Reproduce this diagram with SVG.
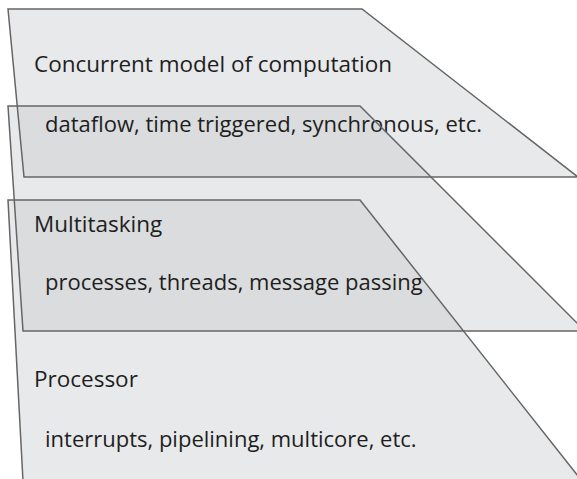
<svg xmlns="http://www.w3.org/2000/svg" width="577" height="479" viewBox="0 0 577 479">
  <style>
    .fill { fill: #c6c8ca; fill-opacity: 0.4; stroke: none; }
    .edge { fill: none; stroke: #666; stroke-width: 1.5; stroke-linejoin: miter; }
    .title { font-family: "Open Sans", "Liberation Sans", sans-serif; font-size: 22.5px; fill: #1e1e1e; }
    .sub { font-family: "Open Sans", "Liberation Sans", sans-serif; font-size: 22px; fill: #1e1e1e; }
  </style>
  <rect width="577" height="479" fill="#ffffff"/>
  <g id="plane-fills">
    <polygon class="fill" points="8,9 362,9 578,177 24,177"/>
    <polygon class="fill" points="8,106 360,106 585,331 23,331"/>
    <polygon class="fill" points="8,200 360,200 597,500 24,500"/>
  </g>
  <g id="plane-concurrent-model">
    <polygon class="edge" points="8,9 362,9 578,177 24,177"/>
    <text class="title" x="34" y="72" textLength="358">Concurrent model of computation</text>
    <text class="sub" x="45" y="132">dataflow, time triggered, synchronous, etc.</text>
  </g>
  <g id="plane-multitasking">
    <polygon class="edge" points="8,106 360,106 585,331 23,331"/>
    <text class="title" x="34" y="232">Multitasking</text>
    <text class="sub" x="45" y="290">processes, threads, message passing</text>
  </g>
  <g id="plane-processor">
    <polygon class="edge" points="8,200 360,200 597,500 24,500"/>
    <text class="title" x="34" y="387">Processor</text>
    <text class="sub" x="45" y="447">interrupts, pipelining, multicore, etc.</text>
  </g>
</svg>
